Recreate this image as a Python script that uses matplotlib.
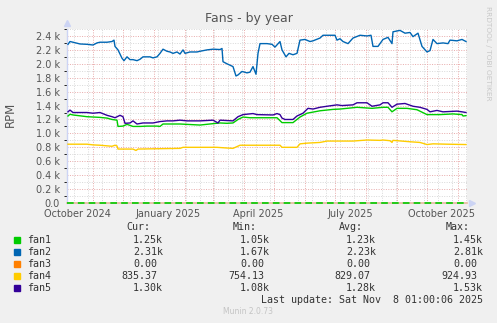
import pandas as pd
import matplotlib
matplotlib.use('Agg')
import matplotlib.pyplot as plt
import matplotlib.ticker as mticker

# Munin "Fans - by year" graph
chart_start = pd.Timestamp('2024-10-05 16:00')
chart_end = chart_start + pd.Timedelta(days=400)

# days since chart_start, RPM
fan1_days = [1, 3, 6, 20, 33, 40, 45, 50, 51, 56, 60, 66, 73, 80, 90, 93, 96, 113, 133, 146,
             153, 160, 166, 171, 176, 183, 210, 215, 226, 233, 240, 253, 266, 273, 290, 305,
             316, 321, 325, 330, 340, 350, 360, 373, 386, 395, 396, 399]
fan1_vals = [1250, 1275, 1265, 1240, 1230, 1220, 1200, 1190, 1100, 1105, 1130, 1100, 1100, 1105,
             1105, 1100, 1135, 1135, 1120, 1140, 1150, 1145, 1150, 1200, 1235, 1225, 1225, 1155,
             1155, 1235, 1290, 1325, 1345, 1350, 1375, 1360, 1375, 1375, 1310, 1360, 1360, 1340,
             1270, 1270, 1280, 1270, 1250, 1255]

fan2_days = [1, 3, 6, 13, 20, 26, 30, 33, 40, 45, 47, 48, 51, 55, 57, 60, 63, 66, 70, 73,
             76, 83, 86, 90, 93, 96, 100, 103, 106, 110, 113, 116, 118, 123, 130, 133, 140, 146, 153, 155,
             156, 160, 166, 169, 171, 175, 180, 183, 186, 189, 191, 193, 200, 205, 208, 213, 215, 219, 222, 226,
             230, 233, 238, 243, 246, 253, 256, 263, 268, 270, 273, 276, 281, 286, 293, 300, 304, 306, 311, 316,
             321, 325, 326, 333, 338, 343, 346, 351, 355, 360, 363, 366, 370, 376, 381, 383, 390, 395, 399]
fan2_vals = [2280, 2320, 2310, 2285, 2280, 2270, 2300, 2310, 2310, 2320, 2340, 2250, 2200, 2080, 2045, 2100, 2060, 2060, 2045, 2065,
             2100, 2100, 2085, 2100, 2150, 2210, 2180, 2170, 2150, 2170, 2140, 2200, 2150, 2170, 2170, 2180, 2200, 2210, 2205, 2220,
             2030, 2000, 1960, 1825, 1840, 1890, 1870, 1880, 1960, 1850, 2150, 2290, 2290, 2280, 2240, 2320, 2200, 2100, 2150, 2130,
             2150, 2340, 2350, 2320, 2330, 2370, 2410, 2410, 2410, 2340, 2360, 2320, 2290, 2370, 2410, 2400, 2410, 2250, 2250, 2350,
             2380, 2290, 2460, 2480, 2440, 2450, 2390, 2440, 2250, 2170, 2190, 2350, 2290, 2300, 2290, 2340, 2330, 2350, 2320]

fan3_days = [0, 400]
fan3_vals = [0, 0]

fan4_days = [1, 20, 26, 33, 45, 48, 50, 51, 66, 69, 71, 113, 116, 150, 155, 160, 166, 173, 213,
             215, 230, 233, 240, 253, 260, 286, 300, 313, 316, 323, 325, 326, 343, 353, 360, 366,
             380, 399]
fan4_vals = [845, 845, 835, 830, 815, 830, 820, 775, 775, 755, 775, 785, 800, 800, 795, 790, 785,
             830, 830, 800, 800, 850, 860, 870, 890, 890, 905, 900, 905, 895, 870, 900, 880, 870,
             840, 850, 845, 840]

fan5_days = [1, 3, 6, 20, 26, 33, 40, 45, 48, 53, 56, 58, 63, 66, 70, 76, 86, 93, 100, 106,
             113, 120, 133, 146, 151, 153, 166, 171, 176, 186, 190, 206, 210, 213, 215, 218, 226,
             230, 236, 241, 246, 253, 260, 270, 275, 286, 290, 300, 305, 313, 316, 321, 325, 330,
             338, 346, 353, 360, 363, 370, 376, 390, 395, 399]
fan5_vals = [1310, 1335, 1300, 1300, 1290, 1300, 1260, 1240, 1225, 1260, 1240, 1145, 1150, 1180,
             1135, 1150, 1150, 1170, 1180, 1180, 1190, 1180, 1180, 1190, 1150, 1190, 1180, 1240,
             1270, 1285, 1270, 1265, 1285, 1270, 1220, 1200, 1200, 1250, 1290, 1360, 1350, 1375,
             1390, 1410, 1400, 1410, 1440, 1440, 1390, 1410, 1440, 1440, 1375, 1420, 1430, 1390,
             1375, 1345, 1310, 1330, 1310, 1320, 1310, 1300]

series_names = ['fan1', 'fan2', 'fan3', 'fan4', 'fan5']
series_colors = ['#00cc00', '#0066b3', '#ff8000', '#ffcc00', '#330099']

col_titles = ['Cur:', 'Min:', 'Avg:', 'Max:']
cur_vals = ['1.25k', '2.31k', '0.00', '835.37', '1.30k']
min_vals = ['1.05k', '1.67k', '0.00', '754.13', '1.08k']
avg_vals = ['1.23k', '2.23k', '0.00', '829.07', '1.28k']
max_vals = ['1.45k', '2.81k', '0.00', '924.93', '1.53k']

month_labels = ['October 2024', 'January 2025', 'April 2025', 'July 2025', 'October 2025']
month_label_dates = ['2024-10-16', '2025-01-15', '2025-04-15', '2025-07-16', '2025-10-15']

W, H = 497, 323


def fx(x):
    return x / W


def fy(y):
    return 1 - y / H


def to_dates(days):
    return chart_start + pd.to_timedelta(days, unit='D')


fig = plt.figure(figsize=(W / 100, H / 100), dpi=100, facecolor='#f0f0f0')
ax = fig.add_axes([fx(67), fy(203), 400 / W, 174 / H])
ax.set_facecolor('white')

# grid: grey minor every 2 weeks, red at month starts
grey = '#d8d8d8'
red = '#e8aaaa'
for d in pd.date_range('2024-10-13', chart_end, freq='14D'):
    ax.axvline(d, color=grey, lw=0.7, ls=(0, (1, 1.5)), zorder=1)
for d in pd.date_range('2024-11-01', chart_end, freq='MS'):
    ax.axvline(d, color=red, lw=0.7, ls=(0, (1, 1.5)), zorder=1)

ax.set_ylim(0, 2500)
ax.set_xlim(chart_start, chart_end)
ax.yaxis.set_major_locator(mticker.MultipleLocator(200))
ax.yaxis.set_minor_locator(mticker.MultipleLocator(100))
ax.yaxis.grid(True, which='minor', color=grey, lw=0.7, ls=(0, (1, 1.5)), zorder=1)
ax.yaxis.grid(True, which='major', color=red, lw=0.7, ls=(0, (1, 1.5)), zorder=1)
ax.set_axisbelow(True)
ax.yaxis.set_major_formatter(mticker.FuncFormatter(
    lambda v, p: '0.0' if v == 0 else f'{v / 1000:.1f} k'))

all_days = [fan1_days, fan2_days, fan3_days, fan4_days, fan5_days]
all_vals = [fan1_vals, fan2_vals, fan3_vals, fan4_vals, fan5_vals]
for name, days, vals, c in zip(series_names, all_days, all_vals, series_colors):
    if name == 'fan3':
        continue
    ax.plot(to_dates(days), vals, color=c, lw=1.0, zorder=3)

# zero line (fan3) as munin draws it
ax.plot(to_dates(fan3_days), fan3_vals, color='#e8b8a0', lw=1.2, zorder=3, clip_on=False)
ax.plot(to_dates(fan3_days), fan3_vals, color='#00cc00', lw=1.2, ls=(0, (4, 2.5)),
        zorder=4, clip_on=False)

ax.set_xticks(pd.to_datetime(month_label_dates))
ax.set_xticklabels(month_labels)
ax.tick_params(axis='both', length=0, labelsize=7, colors='#555555')
ax.tick_params(axis='x', pad=4.5)
ax.tick_params(axis='y', pad=5)

for s in ['top', 'right', 'bottom']:
    ax.spines[s].set_visible(False)
ax.spines['left'].set_color('#ccd4f4')
ax.spines['left'].set_linewidth(1.0)
ax.plot([0], [1.035], marker='^', ms=5, color='#ccd4f4', transform=ax.transAxes, clip_on=False)
ax.plot([1.012], [0], marker='>', ms=5, color='#ccd4f4', transform=ax.transAxes, clip_on=False)

fig.text(fx(10), fy(114), 'RPM', rotation=90, ha='center', va='center',
         fontsize=8.5, color='#555555')
fig.text(fx(248.5), fy(18.5), 'Fans - by year', ha='center', va='center',
         fontsize=9, color='#555555')
fig.text(fx(488), fy(53), 'RRDTOOL / TOBI OETIKER', rotation=270, ha='center', va='center',
         fontsize=5.3, color='#c8c8c8')

# legend table
mono = dict(family='DejaVu Sans Mono', fontsize=7.2, color='#333333')
head_right = [150, 257, 363, 470]
col_right = [163, 270, 376, 483]
for t, xr in zip(col_titles, head_right):
    fig.text(fx(xr), fy(227), t, ha='right', va='center', **mono)

row_y = [240, 252, 264, 276, 288]
columns = [cur_vals, min_vals, avg_vals, max_vals]
for i, (name, c) in enumerate(zip(series_names, series_colors)):
    y = row_y[i]
    fig.patches.append(plt.Rectangle((fx(14), fy(y + 3)), 6 / W, 6 / H,
                                     transform=fig.transFigure, color=c, figure=fig))
    fig.text(fx(27), fy(y), name, ha='left', va='center', **mono)
    for col, xr in zip(columns, col_right):
        v = col[i]
        shift = 0 if v.endswith('k') else 6
        fig.text(fx(xr - shift), fy(y), v, ha='right', va='center', **mono)

fig.text(fx(483), fy(300), 'Last update: Sat Nov  8 01:00:06 2025', ha='right', va='center', **mono)
fig.text(fx(248), fy(312), 'Munin 2.0.73', ha='center', va='center', fontsize=5.5, color='#c4c4c4')

fig.savefig('out.png', dpi=100, facecolor=fig.get_facecolor())
plt.close(fig)
